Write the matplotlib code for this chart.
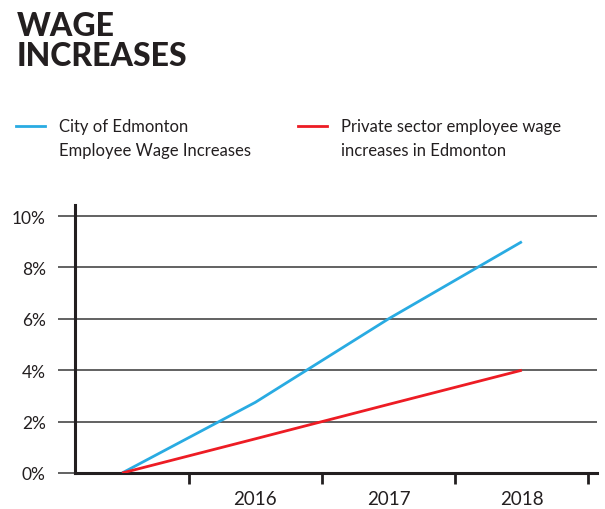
import matplotlib
matplotlib.use("Agg")
import matplotlib.pyplot as plt
from matplotlib.lines import Line2D

# Data
years = [2015, 2016, 2017, 2018]
year_labels = ["2016", "2017", "2018"]
city_wages = [0.0, 2.75, 6.0, 9.0]
private_wages = [0.0, 1.33, 2.67, 4.0]
y_ticks = [0, 2, 4, 6, 8, 10]
y_labels = ["0%", "2%", "4%", "6%", "8%", "10%"]

BLUE = "#29abe2"
RED = "#ed1c24"
INK = "#231f20"
GRID = "#555555"

plt.rcParams['font.family'] = ['Lato', 'DejaVu Sans']

W, H = 605, 510
fig = plt.figure(figsize=(W / 100, H / 100), dpi=100)
ax = fig.add_axes([75 / W, 1 - 474 / H, (597 - 75) / W, (474 - 206) / H])

# Title
fig.text(17 / W, 1 - 12 / H, "WAGE\nINCREASES", fontsize=23, fontweight="black",
         color=INK, va="top", ha="left", linespacing=1.05)

# Legend drawn by hand so the swatch sits on the first text line
fig.add_artist(Line2D([16 / W, 45 / W], [1 - 127 / H, 1 - 127 / H], color=BLUE, lw=2))
fig.text(59 / W, 1 - 119 / H, "City of Edmonton\nEmployee Wage Increases",
         fontsize=12, color=INK, va="top", ha="left", linespacing=1.6)
fig.add_artist(Line2D([298 / W, 327 / W], [1 - 127 / H, 1 - 127 / H], color=RED, lw=2))
fig.text(341 / W, 1 - 119 / H, "Private sector employee wage\nincreases in Edmonton",
         fontsize=12, color=INK, va="top", ha="left", linespacing=1.6)

# Lines
ax.plot(years, city_wages, color=BLUE, lw=2, solid_capstyle="butt", zorder=3)
ax.plot(years, private_wages, color=RED, lw=2, solid_capstyle="butt", zorder=3)

# Axes limits
ax.set_xlim(2015 - 47 / 133, 2018 + 75 / 133)
ax.set_ylim(0, 10 + 11 / 25.7)

# Y axis: ticks extend left, gridlines across
ax.set_yticks(y_ticks[1:])
ax.set_yticklabels(y_labels[1:])
ax.set_yticks([0], minor=True)
ax.set_yticklabels([y_labels[0]], minor=True)
ax.tick_params(axis="y", which="both", length=12, width=1.3, color=GRID,
               pad=9, labelsize=12.5, labelcolor=INK)
ax.grid(axis="y", which="major", color=GRID, lw=1.3)

# X axis: ticks at category boundaries, labels at centres
ax.set_xticks([y + 0.5 for y in years])
ax.set_xticklabels([])
ax.set_xticks(years[1:], minor=True)
ax.set_xticklabels(year_labels, minor=True)
ax.tick_params(axis="x", which="major", direction="out", length=8, width=2, color=INK)
ax.tick_params(axis="x", which="minor", length=0, pad=12, labelsize=13.5, labelcolor=INK)

for side in ["top", "right"]:
    ax.spines[side].set_visible(False)
ax.spines["left"].set_linewidth(2.2)
ax.spines["left"].set_color(INK)
ax.spines["bottom"].set_linewidth(2.2)
ax.spines["bottom"].set_color(INK)
ax.set_axisbelow(True)

fig.savefig("out.png", dpi=100)
